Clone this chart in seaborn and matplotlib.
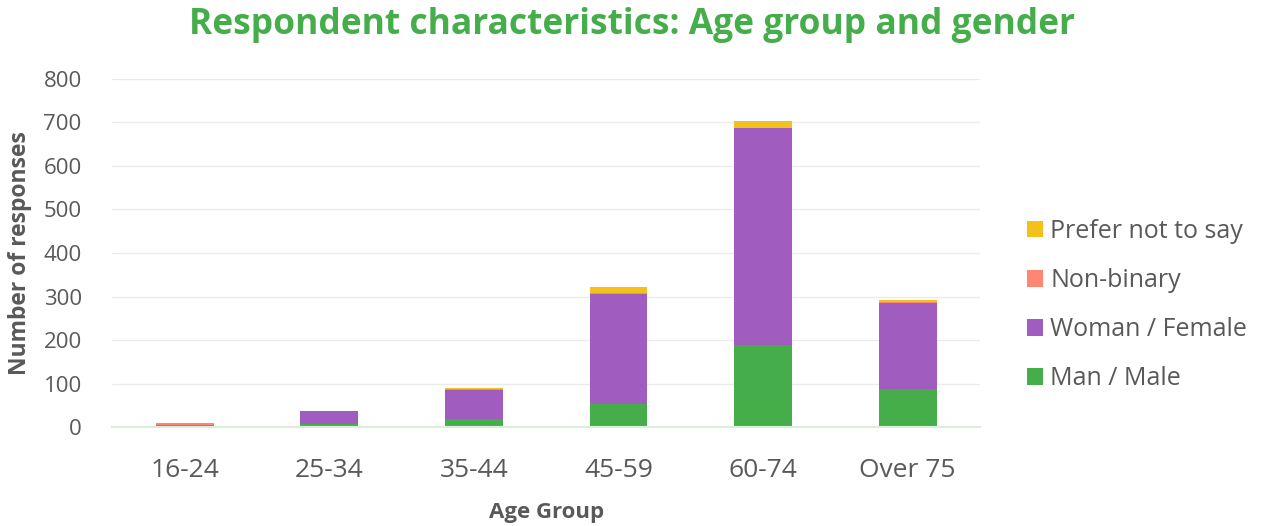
import numpy as np
import pandas as pd
import matplotlib
matplotlib.use("Agg")
import matplotlib.pyplot as plt
from matplotlib.patches import Patch
import seaborn as sns

age_groups = ["16-24", "25-34", "35-44", "45-59", "60-74", "Over 75"]
man = [5, 7, 18, 52, 188, 87]
woman = [1, 31, 68, 254, 500, 199]
non_binary = [4, 0, 1, 1, 0, 1]
prefer_not = [0, 0, 2, 15, 15, 5]

series_names = ["Man / Male", "Woman / Female", "Non-binary", "Prefer not to say"]
series_values = [man, woman, non_binary, prefer_not]
colors = ["#46ad4b", "#a05dbf", "#ff8672", "#f2c11c"]

sns.set_theme(style="white")
plt.rcParams["font.family"] = ["Open Sans", "DejaVu Sans"]

fig = plt.figure(figsize=(12.76, 5.26), dpi=100)
ax = fig.add_axes([0.088, 0.188, 0.68, 0.662])

# cumulative totals, drawn from the tallest layer down so each segment shows
cum = np.cumsum(np.array(series_values), axis=0)
for i in range(len(series_names) - 1, -1, -1):
    df = pd.DataFrame({"age": age_groups, "value": cum[i]})
    sns.barplot(data=df, x="age", y="value", color=colors[i], width=0.4,
                saturation=1, edgecolor="none", linewidth=0, ax=ax)

ax.set_ylim(0, 800)
ax.set_xlim(-0.5, 5.5)
ax.set_yticks(range(0, 801, 100))
ax.yaxis.grid(True, color="#ebebeb", linewidth=1)
ax.set_axisbelow(True)
for s in ["top", "right", "left"]:
    ax.spines[s].set_visible(False)
ax.spines["bottom"].set_color("#d9eedb")
ax.spines["bottom"].set_linewidth(1.5)
ax.tick_params(axis="x", labelsize=19, colors="#595959", length=0, pad=22)
ax.tick_params(axis="y", labelsize=16, colors="#595959", length=0, pad=22)

ax.set_xlabel("Age Group", fontsize=16, fontweight="bold", color="#595959", labelpad=14)
ax.set_ylabel("Number of responses", fontsize=16.5, fontweight="bold", color="#595959", labelpad=8)

fig.text(0.495, 0.952, "Respondent characteristics: Age group and gender",
         ha="center", va="center", fontsize=25.5, fontweight="bold", color="#46ad4b")

handles = [Patch(facecolor=colors[i], edgecolor="none", label=series_names[i])
           for i in range(len(series_names) - 1, -1, -1)]
fig.legend(handles=handles, loc="center left", bbox_to_anchor=(0.787, 0.42),
           frameon=False, fontsize=18, labelcolor="#595959",
           handlelength=0.65, handleheight=0.65, handletextpad=0.3, labelspacing=0.97)

fig.savefig("out.png", dpi=100)
